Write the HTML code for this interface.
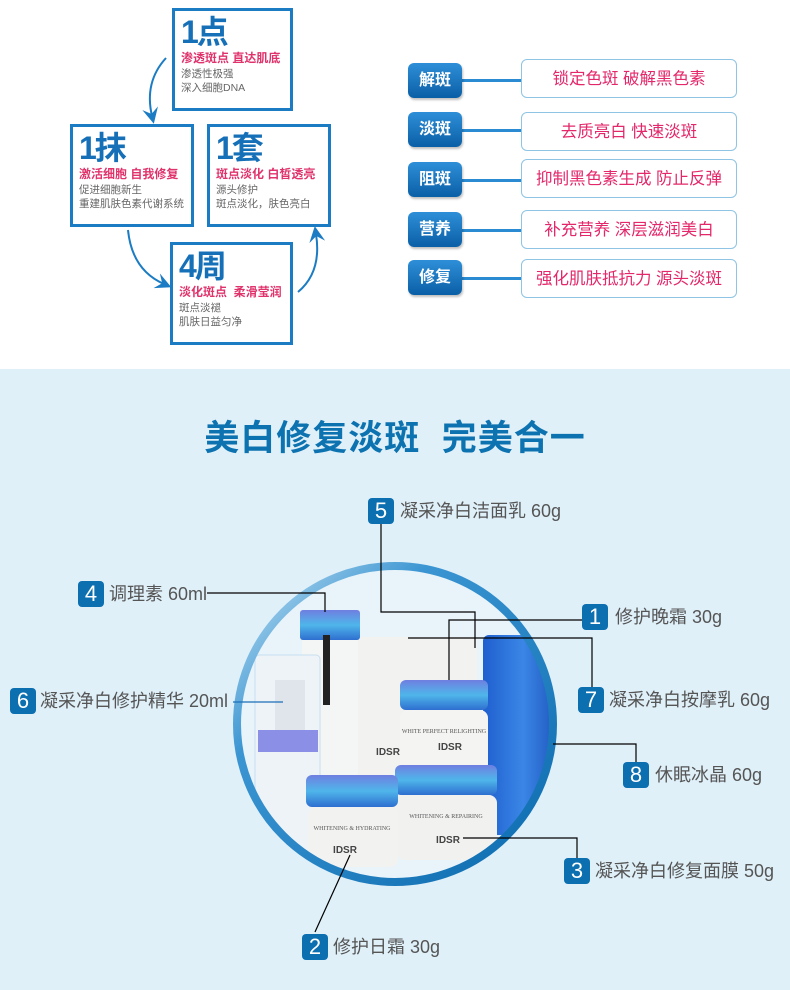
<!DOCTYPE html>
<html><head><meta charset="utf-8">
<style>
*{margin:0;padding:0;box-sizing:border-box}
body{width:790px;height:990px;position:relative;background:#fff;font-family:"Liberation Sans","Noto Sans CJK SC",sans-serif;overflow:hidden}
.a{position:absolute}
.box{position:absolute;border:3px solid #1b7cc4;background:#fff;padding:3px 0 0 6px}
.box .big{font-size:32px;font-weight:bold;color:#1670b8;line-height:36px;letter-spacing:-2px}
.box .pk{font-size:12px;font-weight:bold;color:#e0336c;line-height:17px;white-space:nowrap}
.box .gr{font-size:10.5px;color:#666;line-height:14px;white-space:nowrap}
.bd{position:absolute;left:408px;width:54px;height:35px;border-radius:6px;background:linear-gradient(#2e8fd8,#0a5fa6);color:#fff;font-weight:bold;font-size:16px;text-align:center;line-height:35px;box-shadow:1px 2px 2px rgba(0,0,0,.25)}
.ln{position:absolute;left:462px;width:59px;height:3px;background:#2a8ad2}
.pl{position:absolute;left:521px;width:216px;height:39px;border:1px solid #8fc4e4;border-radius:6px;background:#fff;color:#e3276a;font-size:16.5px;text-align:center;line-height:39px}
.blue{position:absolute;left:0;top:369px;width:790px;height:621px;background:#dff0f9}
.n{position:absolute;width:26px;height:26px;border-radius:4px;background:#0b6fb0;color:#fff;font-size:22px;text-align:center;line-height:26px}
.t{position:absolute;font-size:18px;color:#555;line-height:26px;white-space:nowrap}
</style></head><body>
<svg class="a" style="left:0;top:0" width="400" height="360">
<defs><marker id="ah" markerWidth="8" markerHeight="8" refX="4" refY="4" orient="auto"><path d="M0,0 L8,4 L0,8 L3,4z" fill="#1b7cc4"/></marker></defs>
<path d="M166,58 Q144,82 152,116" stroke="#1b7cc4" stroke-width="2" fill="none" marker-end="url(#ah)"/>
<path d="M128,230 Q132,270 164,284" stroke="#1b7cc4" stroke-width="2" fill="none" marker-end="url(#ah)"/>
<path d="M298,292 Q322,272 316,234" stroke="#1b7cc4" stroke-width="2" fill="none" marker-end="url(#ah)"/>
</svg>
<div class="box" style="left:172px;top:8px;width:121px;height:103px"><div class="big">1点</div><div class="pk">渗透斑点 直达肌底</div><div class="gr">渗透性极强<br>深入细胞DNA</div></div>
<div class="box" style="left:70px;top:124px;width:124px;height:103px"><div class="big">1抹</div><div class="pk">激活细胞 自我修复</div><div class="gr">促进细胞新生<br>重建肌肤色素代谢系统</div></div>
<div class="box" style="left:207px;top:124px;width:124px;height:103px"><div class="big">1套</div><div class="pk">斑点淡化 白皙透亮</div><div class="gr">源头修护<br>斑点淡化，肤色亮白</div></div>
<div class="box" style="left:170px;top:242px;width:123px;height:103px"><div class="big">4周</div><div class="pk">淡化斑点 &nbsp;柔滑莹润</div><div class="gr">斑点淡褪<br>肌肤日益匀净</div></div>

<div class="ln" style="top:79px"></div><div class="ln" style="top:129px"></div><div class="ln" style="top:179px"></div><div class="ln" style="top:229px"></div><div class="ln" style="top:277px"></div>
<div class="bd" style="top:63px">解斑</div><div class="pl" style="top:59px">锁定色斑 破解黑色素</div>
<div class="bd" style="top:112px">淡斑</div><div class="pl" style="top:112px">去质亮白 快速淡斑</div>
<div class="bd" style="top:162px">阻斑</div><div class="pl" style="top:159px">抑制黑色素生成 防止反弹</div>
<div class="bd" style="top:212px">营养</div><div class="pl" style="top:210px">补充营养 深层滋润美白</div>
<div class="bd" style="top:260px">修复</div><div class="pl" style="top:259px">强化肌肤抵抗力 源头淡斑</div>

<div class="blue"></div>
<div class="a" style="left:0;top:410px;width:790px;text-align:center;font-size:35px;font-weight:bold;color:#0d72b0;letter-spacing:1px">美白修复淡斑&nbsp; 完美合一</div>

<svg class="a" style="left:0;top:0" width="790" height="990">
<defs>
<linearGradient id="rg" x1="0" y1="0" x2="1" y2="1"><stop offset="0" stop-color="#c5e3f4"/><stop offset=".3" stop-color="#3b95d2"/><stop offset="1" stop-color="#0a6aae"/></linearGradient>
<linearGradient id="cap" x1="0" y1="0" x2="0" y2="1"><stop offset="0" stop-color="#6f7fe0"/><stop offset=".5" stop-color="#4fb6ea"/><stop offset="1" stop-color="#2e6fd0"/></linearGradient>
<linearGradient id="tube" x1="0" y1="0" x2="1" y2="0"><stop offset="0" stop-color="#1f5fcf"/><stop offset=".5" stop-color="#3a86e6"/><stop offset="1" stop-color="#1a4fb8"/></linearGradient>
<clipPath id="cc"><circle cx="395" cy="724" r="156"/></clipPath>
</defs>
<circle cx="395" cy="724" r="156" fill="#e8f3fa"/>
<g clip-path="url(#cc)">
<rect x="483" y="635" width="80" height="200" rx="6" fill="url(#tube)"/>
<rect x="357" y="637" width="120" height="210" rx="4" fill="#f2f3f1"/>
<rect x="300" y="610" width="60" height="30" rx="3" fill="url(#cap)"/>
<rect x="302" y="640" width="56" height="180" fill="#f4f5f5"/>
<rect x="323" y="635" width="7" height="70" fill="#222"/>
<rect x="255" y="655" width="65" height="210" rx="4" fill="#eef3f7" stroke="#c6dff0"/>
<rect x="275" y="680" width="30" height="60" fill="#dfe5ea"/>
<rect x="258" y="730" width="60" height="22" fill="#8c8fe6"/>
<rect x="400" y="680" width="88" height="30" rx="6" fill="url(#cap)"/>
<rect x="400" y="710" width="88" height="62" rx="8" fill="#f4f4f2"/>
<rect x="395" y="765" width="102" height="30" rx="6" fill="url(#cap)"/>
<rect x="397" y="795" width="100" height="65" rx="8" fill="#f1f2f0"/>
<rect x="306" y="775" width="92" height="32" rx="6" fill="url(#cap)"/>
<rect x="308" y="807" width="90" height="60" rx="8" fill="#f2f3f1"/>
<text x="352" y="830" font-size="6" text-anchor="middle" fill="#555" font-family="Liberation Serif">WHITENING &amp; HYDRATING</text>
<text x="444" y="733" font-size="6" text-anchor="middle" fill="#555" font-family="Liberation Serif">WHITE PERFECT RELIGHTING</text>
<text x="446" y="818" font-size="6" text-anchor="middle" fill="#555" font-family="Liberation Serif">WHITENING &amp; REPAIRING</text>
<text x="345" y="853" font-size="10" text-anchor="middle" fill="#444" font-weight="bold">IDSR</text>
<text x="450" y="750" font-size="10" text-anchor="middle" fill="#444" font-weight="bold">IDSR</text>
<text x="448" y="843" font-size="10" text-anchor="middle" fill="#444" font-weight="bold">IDSR</text>
<text x="388" y="755" font-size="10" text-anchor="middle" fill="#444" font-weight="bold">IDSR</text>
</g>
<circle cx="395" cy="724" r="158" fill="none" stroke="url(#rg)" stroke-width="8"/>
<g stroke="#000" stroke-width="1.2" fill="none">
<path d="M381,523 V612 H475 V648"/>
<path d="M207,593 H325 V612"/>
<path d="M582,620 H449 V680"/>
<path d="M408,638 H592 V687"/>
<path d="M636,762 V744 H553"/>
<path d="M577,858 V838 H463"/>
<path d="M315,932 L350,855"/>
</g>
<path d="M233,702 H283" stroke="#1a6fb8" stroke-width="1.2"/>
</svg>

<div class="n" style="left:368px;top:498px">5</div><div class="t" style="left:400px;top:498px">凝采净白洁面乳 60g</div>
<div class="n" style="left:78px;top:581px">4</div><div class="t" style="left:109px;top:581px">调理素 60ml</div>
<div class="n" style="left:582px;top:604px">1</div><div class="t" style="left:615px;top:604px">修护晚霜 30g</div>
<div class="n" style="left:10px;top:688px">6</div><div class="t" style="left:40px;top:688px">凝采净白修护精华 20ml</div>
<div class="n" style="left:578px;top:687px">7</div><div class="t" style="left:609px;top:687px">凝采净白按摩乳 60g</div>
<div class="n" style="left:623px;top:762px">8</div><div class="t" style="left:655px;top:762px">休眠冰晶 60g</div>
<div class="n" style="left:564px;top:858px">3</div><div class="t" style="left:595px;top:858px">凝采净白修复面膜 50g</div>
<div class="n" style="left:302px;top:934px">2</div><div class="t" style="left:333px;top:934px">修护日霜 30g</div>
</body></html>
